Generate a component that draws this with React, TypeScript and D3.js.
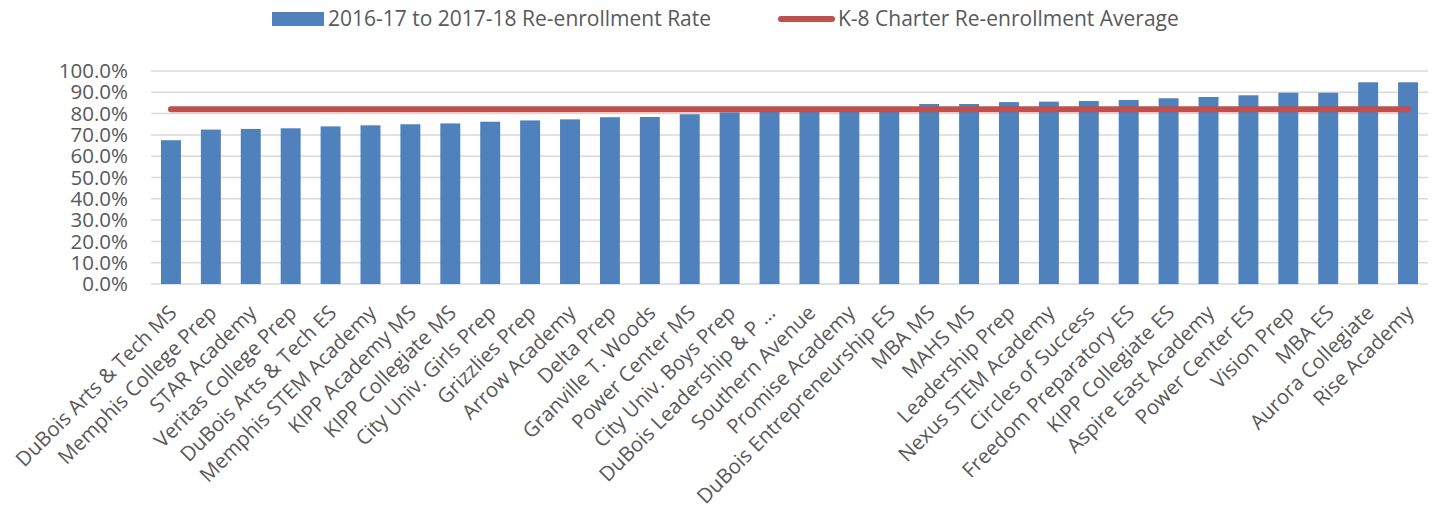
import React from 'react';
import * as d3 from 'd3';

const schools = [
  'DuBois Arts & Tech MS', 'Memphis College Prep', 'STAR Academy', 'Veritas College Prep',
  'DuBois Arts & Tech ES', 'Memphis STEM Academy', 'KIPP Academy MS', 'KIPP Collegiate MS',
  'City Univ. Girls Prep', 'Grizzlies Prep', 'Arrow Academy', 'Delta Prep',
  'Granville T. Woods', 'Power Center MS', 'City Univ. Boys Prep', 'DuBois Leadership & P ...',
  'Southern Avenue', 'Promise Academy', 'DuBois Entrepreneurship ES', 'MBA MS',
  'MAHS MS', 'Leadership Prep', 'Nexus STEM Academy', 'Circles of Success',
  'Freedom Preparatory ES', 'KIPP Collegiate ES', 'Aspire East Academy', 'Power Center ES',
  'Vision Prep', 'MBA ES', 'Aurora Collegiate', 'Rise Academy',
];

const reenrollRate = [
  0.675, 0.725, 0.728, 0.731, 0.740, 0.745, 0.750, 0.754,
  0.762, 0.768, 0.773, 0.783, 0.784, 0.797, 0.806, 0.809,
  0.813, 0.817, 0.822, 0.845, 0.845, 0.854, 0.856, 0.859,
  0.864, 0.872, 0.878, 0.886, 0.898, 0.898, 0.947, 0.947,
];

const charterAverage = 0.82;
const yTicks = [0, 0.1, 0.2, 0.3, 0.4, 0.5, 0.6, 0.7, 0.8, 0.9, 1.0];

const seriesNames = ['2016-17 to 2017-18 Re-enrollment Rate', 'K-8 Charter Re-enrollment Average'];

export default function App() {
  const width = 1434;
  const height = 509;
  const font = '"Open Sans", "Liberation Sans", sans-serif';
  const textColor = '#595959';
  const blue = '#4F81BD';
  const red = '#C0504D';

  // scales
  const x = d3.scaleBand<string>()
    .domain(schools)
    .range([151, 1428])
    .paddingInner(0.5)
    .paddingOuter(0.25);
  const y = d3.scaleLinear().domain([0, 1]).range([284, 71]);
  const fmt = d3.format('.1%');

  const first = x(schools[0])! + x.bandwidth() / 2;
  const last = x(schools[schools.length - 1])! + x.bandwidth() / 2;

  return (
    <svg width={width} height={height} style={{ position: 'absolute', left: 0, top: 0, background: '#fff' }}
      fontFamily={font}>
      {/* gridlines + y labels */}
      {yTicks.map(t => (
        <g key={t}>
          <line x1={151} x2={1428} y1={y(t)} y2={y(t)} stroke="#D9D9D9" strokeWidth={1.5} />
          <text x={128} y={y(t)} dy="0.35em" textAnchor="end" fontSize={20.5} fill={textColor}>{fmt(t)}</text>
        </g>
      ))}

      {/* bars */}
      {schools.map((s, i) => (
        <rect key={s} x={x(s)} y={y(reenrollRate[i])} width={x.bandwidth()}
          height={y(0) - y(reenrollRate[i])} fill={blue} />
      ))}

      {/* average line */}
      <line x1={first} x2={last} y1={y(charterAverage)} y2={y(charterAverage)}
        stroke={red} strokeWidth={6} strokeLinecap="round" />

      {/* x labels */}
      {schools.map(s => {
        const cx = x(s)! + x.bandwidth() / 2 + 2;
        return (
          <text key={s} transform={`translate(${cx},309) rotate(-45)`} textAnchor="end" dy="0.35em"
            fontSize={20.5} fill={textColor}>{s}</text>
        );
      })}

      {/* legend */}
      <rect x={272} y={12} width={52} height={14} fill={blue} />
      <text x={328} y={19} dy="0.35em" fontSize={21} fill={textColor}>{seriesNames[0]}</text>
      <line x1={781} x2={832} y1={19} y2={19} stroke={red} strokeWidth={6} strokeLinecap="round" />
      <text x={838} y={19} dy="0.35em" fontSize={21} fill={textColor}>{seriesNames[1]}</text>
    </svg>
  );
}
